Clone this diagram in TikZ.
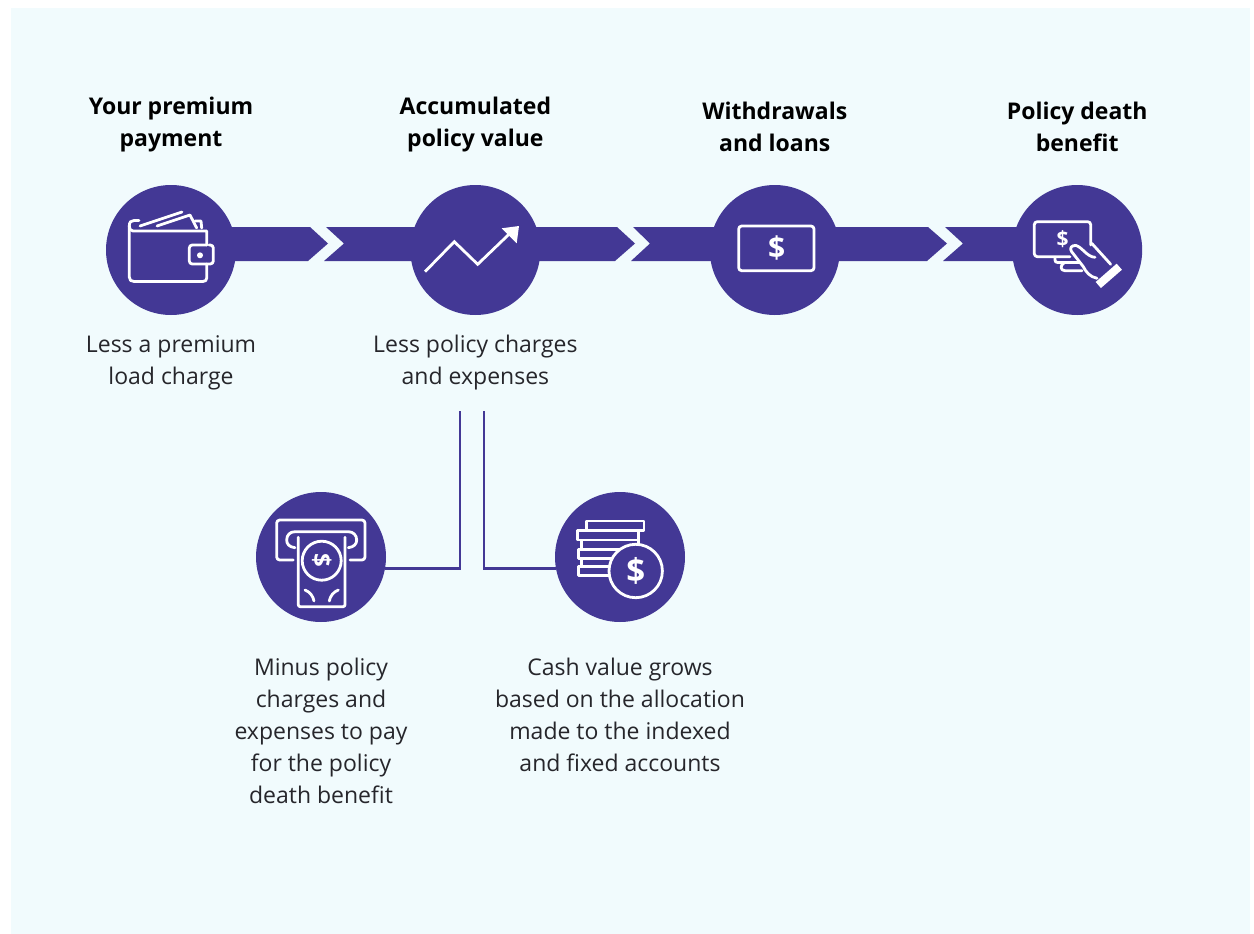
\documentclass[tikz,border=0pt]{standalone}
\usepackage{fontspec}
\usetikzlibrary{positioning}
\setmainfont{Open Sans}
\definecolor{pagetint}{HTML}{F1FBFD}
\definecolor{planpurple}{HTML}{433895}
\definecolor{inktext}{HTML}{26262B}
\tikzset{
    stepcircle/.style={circle, fill=planpurple, minimum size=130pt, inner sep=0pt},
    stephead/.style={align=center, text=black, font=\fontsize{23}{32}\selectfont\bfseries, inner sep=0pt},
    steptext/.style={align=center, text=inktext, font=\fontsize{23}{32}\selectfont, inner sep=0pt},
    linkline/.style={draw=planpurple, line width=2.4pt},
    iconline/.style={draw=white, line width=2.8pt, line join=round, line cap=round},
    iconsign/.style={text=white, inner sep=0pt, font=\bfseries},
}

\begin{document}
\begin{tikzpicture}[x=1pt, y=-1pt]
    \useasboundingbox (0,0) rectangle (1254,934);
    \fill[pagetint] (11,8) rectangle (1250,934);

    % bars under the circles
    \fill[planpurple] (171,227) -- (310,227) -- (328,243.5) -- (308,261) -- (171,261) -- cycle;
    \fill[planpurple] (326,227) -- (617,227) -- (635,243.5) -- (615,261) -- (324,261) -- (344,243.5) -- cycle;
    \fill[planpurple] (633,227) -- (928,227) -- (947,243.5) -- (927,261) -- (631,261) -- (650,243.5) -- cycle;
    \fill[planpurple] (945,227) -- (1076,227) -- (1076,261) -- (943,261) -- (963,243.5) -- cycle;

    \node [stepcircle] at (171,250) (wallet) {};
    \node [stepcircle, right=174pt of wallet] (growth) {};
    \node [stepcircle, right=169pt of growth] (note) {};
    \node [stepcircle, right=172pt of note] (hand) {};
    \node [stepcircle] at (321,557) (atm) {};
    \node [stepcircle] at (620,557) (coins) {};

    \node [stephead, above=33pt of wallet] (walletHead) {Your premium\\payment};
    \node [stephead, above=33pt of growth] (growthHead) {Accumulated\\policy value};
    \node [stephead, above=33pt of note] (noteHead) {Withdrawals\\and loans};
    \node [stephead, above=33pt of hand] (handHead) {Policy death\\benefit};

    \node [steptext, below=20pt of wallet] (walletText) {Less a premium\\load charge};
    \node [steptext, below=20pt of growth] (growthText) {Less policy charges\\and expenses};
    \node [steptext, below=36pt of atm] (atmText) {Minus policy\\charges and\\expenses to pay\\for the policy\\death benefit};
    \node [steptext, below=36pt of coins] (coinsText) {Cash value grows\\based on the allocation\\made to the indexed\\and fixed accounts};

    \coordinate (dropA) at (460,411);
    \coordinate (dropB) at (484,411);
    \draw [linkline] (dropA) |- (atm.-10.6);
    \draw [linkline] (dropB) |- (coins.190.6);

    % wallet
    \draw [iconline] (206.7,245) -- (206.7,231) -- (133,231) .. controls (130.5,231) and (129.3,229) .. (129.3,226) .. controls (129.3,222) and (131,220.5) .. (134,220.5) -- (139,220.5);
    \draw [iconline] (129.3,226) -- (129.3,277) .. controls (129.3,280) and (131,281.5) .. (134,281.5) -- (203,281.5) .. controls (205.5,281.5) and (206.7,280) .. (206.7,278) -- (206.7,264);
    \draw [iconline] (140,226) -- (182,212);
    \draw [iconline] (157,226) -- (190,215) -- (196.7,228);
    \draw [iconline] (195,221) -- (201,221) -- (201.7,228);
    \draw [iconline, rounded corners=3pt] (206.7,245) -- (189.3,245) -- (189.3,264) -- (213.3,264) -- (213.3,245) -- (209,245);
    \fill [white] (200,255.3) circle (3pt);

    % rising line
    \draw [iconline, line cap=butt, line join=miter] (425,271.7) -- (454.3,241.7) -- (477.7,264.3) -- (510,233.3);
    \fill [white] (519,226) -- (501.7,228.3) -- (516.7,243.3) -- cycle;

    % dollar note
    \draw [iconline, rounded corners=3pt] (738.7,226) rectangle (814,270.7);
    \node [iconsign, font=\fontsize{30}{30}\selectfont\bfseries] at (776.7,248.3) (noteSign) {\$};

    % card in hand
    \draw [iconline, rounded corners=3pt] (1090.7,245) -- (1090.7,221.7) -- (1034.3,221.7) -- (1034.3,256.7) -- (1070,256.7);
    \node [iconsign, font=\fontsize{21}{21}\selectfont\bfseries] at (1062.7,239) (handSign) {\$};
    \draw [iconline] (1095,257.3) .. controls (1087,257) and (1082,247) .. (1076,245.5) .. controls (1072,245) and (1069,248) .. (1071.5,251.5) -- (1083.3,266.7) .. controls (1086,272) and (1090,277) .. (1097,278.3);
    \draw [iconline] (1055,257.3) -- (1055,260) .. controls (1055,262) and (1056,262.5) .. (1058,262.5) -- (1079,262.5);
    \draw [iconline] (1064,263) .. controls (1060,265) and (1060,270.7) .. (1065,270.7) -- (1082,270.7);
    \draw [iconline] (1091.7,243.3) -- (1110.7,264.3);
    \draw [draw=white, line width=8pt] (1098.3,285) -- (1119.3,266.7);

    % cash machine
    \draw [iconline, rounded corners=3pt] (293.3,560) -- (276.7,560) -- (276.7,520) -- (365,520) -- (365,560) -- (350,560);
    \draw [iconline] (295,547.7) .. controls (289,547) and (286.7,544) .. (286.7,540) .. controls (286.7,535) and (290,531.7) .. (295,531.7) -- (348.3,531.7) .. controls (353,531.7) and (356.7,535) .. (356.7,540) .. controls (356.7,544) and (354,547) .. (348.3,547.7);
    \draw [iconline, rounded corners=2pt] (298.3,537.3) -- (298.3,606.7) -- (345,606.7) -- (345,537.3);
    \draw [iconline] (321.7,560.7) circle (19.5pt);
    \node [iconsign, rotate=-90, font=\fontsize{24}{24}\selectfont\bfseries] at (321.7,560.7) (atmSign) {\$};
    \draw [iconline] (305,590) .. controls (310,592) and (313,596) .. (314,601);
    \draw [iconline] (338.3,590) .. controls (333.3,592) and (330.3,596) .. (329.3,601);

    % coin stack
    \draw [iconline] (586.7,521) rectangle (644,530.7);
    \draw [iconline] (577.3,530.7) rectangle (638.3,540);
    \draw [iconline] (581.7,540) rectangle (638.3,549.3);
    \draw [iconline] (578.3,549.3) rectangle (625,558.3);
    \draw [iconline] (581.7,558.3) rectangle (625,566.7);
    \draw [iconline] (578.3,566.7) rectangle (625,575.7);
    \draw [iconline, fill=planpurple] (635.7,571) circle (26.7pt);
    \node [iconsign, font=\fontsize{33}{33}\selectfont\bfseries] at (635.7,571) (coinsSign) {\$};
\end{tikzpicture}
\end{document}
